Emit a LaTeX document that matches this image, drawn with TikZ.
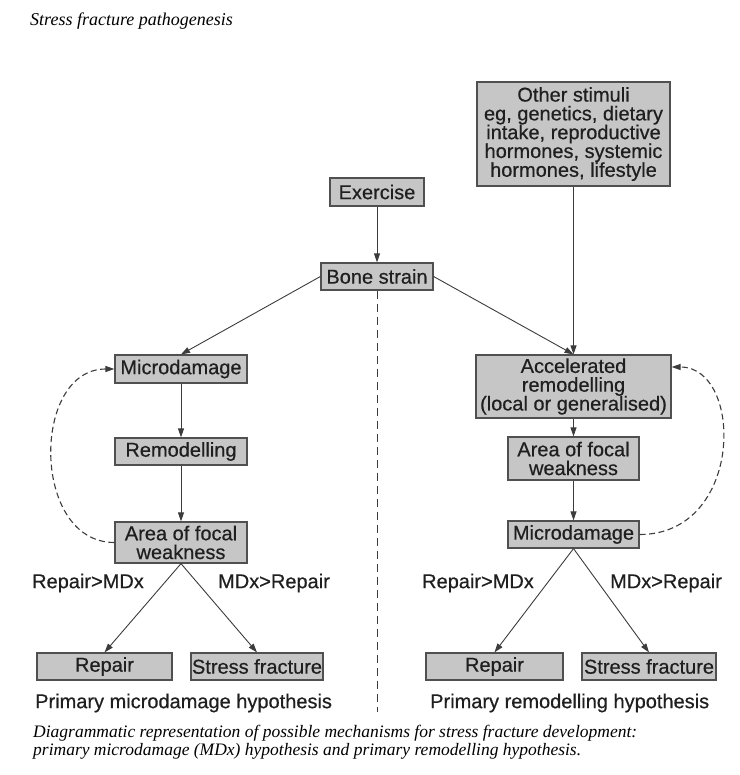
\documentclass[tikz,border=0pt]{standalone}
\usepackage{fontspec}
\setmainfont{Liberation Serif}
\newfontfamily\boxfont[FakeBold=0.5]{Liberation Sans}
\usetikzlibrary{arrows.meta,calc}
\definecolor{boxfill}{RGB}{198,198,198}
\definecolor{boxline}{RGB}{80,80,80}
\definecolor{linecol}{RGB}{60,60,60}
\tikzset{
  stepbox/.style={draw=boxline,line width=1.2pt,fill=boxfill,inner sep=0pt,align=center,
    font=\boxfont\fontsize{20}{18.8}\selectfont,text=black!88},
  lbl/.style={inner sep=0pt,font=\boxfont\fontsize{20}{20}\selectfont,text=black!88},
  conn/.style={draw=linecol,line width=0.9pt,-{Triangle[length=9pt,width=6pt]}},
  dashconn/.style={draw=linecol,line width=1.1pt,dash pattern=on 6pt off 3.5pt,-{Triangle[length=9pt,width=6pt]}},
  capt/.style={inner sep=0pt,anchor=west,font=\itshape\fontsize{17.5}{18}\selectfont}
}
\begin{document}
\begin{tikzpicture}[x=1pt,y=-1pt]
\useasboundingbox (0,0) rectangle (739,775);
% title
\node[capt,font=\itshape\fontsize{18}{18}\selectfont] (title) at (30,21) {Stress fracture pathogenesis};
% boxes
\node[stepbox,minimum width=94pt,minimum height=28pt] (ex) at (377,192) {Exercise};
\node[stepbox,minimum width=112pt,minimum height=27pt] (bs) at (377,276.5) {Bone strain};
\node[stepbox,minimum width=193pt,minimum height=104pt] (os) at (573.5,134) {Other stimuli\\eg, genetics, dietary\\intake, reproductive\\hormones, systemic\\hormones, lifestyle};
\node[stepbox,minimum width=132pt,minimum height=28pt] (md1) at (181,369) {Microdamage};
\node[stepbox,minimum width=132pt,minimum height=27pt] (rm1) at (181,451.5) {Remodelling};
\node[stepbox,minimum width=132pt,minimum height=41pt] (af1) at (181,542.5) {Area of focal\\weakness};
\node[stepbox,minimum width=195pt,minimum height=63pt] (ar) at (573.5,386.5) {Accelerated\\remodelling\\(local or generalised)};
\node[stepbox,minimum width=131pt,minimum height=43pt] (af2) at (573.5,458.5) {Area of focal\\weakness};
\node[stepbox,minimum width=131pt,minimum height=27pt] (md2) at (573.5,534.5) {Microdamage};
\node[stepbox,minimum width=135pt,minimum height=27pt] (rp1) at (104.5,666.5) {Repair};
\node[stepbox,minimum width=132pt,minimum height=27pt] (sf1) at (257,666.5) {Stress fracture};
\node[stepbox,minimum width=137pt,minimum height=27pt] (rp2) at (494.5,666.5) {Repair};
\node[stepbox,minimum width=134pt,minimum height=27pt] (sf2) at (649,666.5) {Stress fracture};
% labels
\node[lbl] (l1) at (88,583) {Repair>MDx};
\node[lbl] (l2) at (274,583) {MDx>Repair};
\node[lbl] (l3) at (478,583) {Repair>MDx};
\node[lbl] (l4) at (666,583) {MDx>Repair};
\node[lbl,anchor=west] (h1) at (35,703) {Primary microdamage hypothesis};
\node[lbl,anchor=west] (h2) at (430,703) {Primary remodelling hypothesis};
% caption
\node[capt] (c1) at (33,733) {Diagrammatic representation of possible mechanisms for stress fracture development:};
\node[capt] (c2) at (33,751) {primary microdamage (MDx) hypothesis and primary remodelling hypothesis.};
% divider
\coordinate (dend) at (377,712);
\draw[draw=linecol,line width=1pt,dash pattern=on 8pt off 5pt] (bs.south) -- (dend);
% connectors
\draw[conn] (ex) -- (bs);
\draw[conn] (bs.west) -- (md1.north);
\draw[conn] (bs.east) -- (ar.north);
\draw[conn] (os.south -| ar.north) -- (ar.north);
\draw[conn] (md1) -- (rm1);
\draw[conn] (rm1) -- (af1);
\draw[conn] (af1.south) -- (rp1.north);
\draw[conn] (af1.south) -- (sf1.north);
\draw[conn] (ar) -- (af2);
\draw[conn] (af2) -- (md2);
\draw[conn] (md2.south) -- (rp2.north);
\draw[conn] (md2.south) -- (sf2.north);
% feedback loops
\draw[dashconn] (af1.west) .. controls (31,542.5) and (31,369) .. (md1.west);
\coordinate (arin) at ($(ar.east)+(0,-19.5)$);
\draw[dashconn] (md2.east) .. controls (744,534.5) and (744,367) .. (arin);
\end{tikzpicture}
\end{document}
